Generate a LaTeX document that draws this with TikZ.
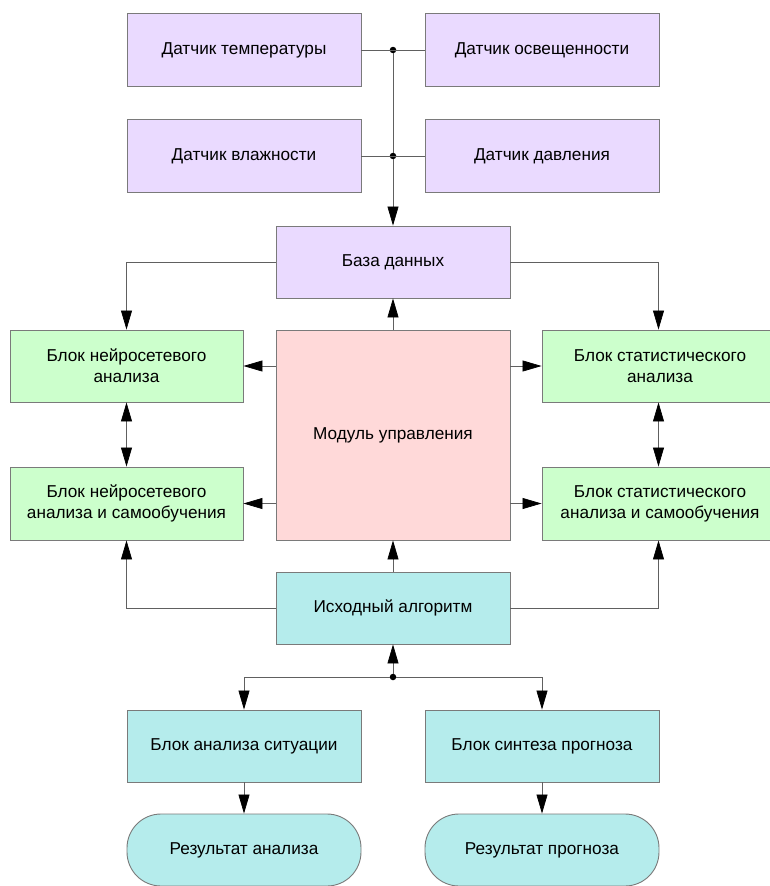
\documentclass[tikz,border=0pt]{standalone}
\usepackage{fontspec}
\setmainfont{Liberation Sans}
\usetikzlibrary{arrows.meta}
\definecolor{purp}{HTML}{EADAFF}
\definecolor{grn}{HTML}{CCFFCC}
\definecolor{pnk}{HTML}{FFD9D9}
\definecolor{cyn}{HTML}{B5ECEC}
\definecolor{brd}{HTML}{7A7A7A}
\definecolor{ln}{HTML}{606060}
\tikzset{
  box/.style={draw=brd, line width=0.9pt, minimum width=234pt, minimum height=73pt, align=center, font=\fontsize{17.2}{21}\selectfont, inner sep=0pt},
  pbox/.style={box, fill=purp},
  gbox/.style={box, fill=grn},
  cbox/.style={box, fill=cyn},
  conn/.style={draw=ln, line width=0.7pt},
  tip/.style={},
  arr/.style={conn, -{Triangle[length=19pt,width=11pt,fill=black,color=black]}},
  darr/.style={conn, {Triangle[length=19pt,width=11pt,fill=black,color=black]}-{Triangle[length=19pt,width=11pt,fill=black,color=black]}},
  dot/.style={circle, fill=black, inner sep=0pt, minimum size=6.5pt}
}
\begin{document}
\begin{tikzpicture}[x=1pt,y=-1pt]
\useasboundingbox (0,0) rectangle (769,886);
\node[pbox] (t1) at (244,50) {Датчик температуры};
\node[pbox] (t2) at (542,50) {Датчик освещенности};
\node[pbox] (t3) at (244,156) {Датчик влажности};
\node[pbox] (t4) at (542,156) {Датчик давления};
\node[dot] (j1) at (393,50) {};
\node[dot] (j2) at (393,156) {};
\node[pbox, minimum height=72pt] (db) at (393,262) {База данных};
\node[gbox, minimum width=233pt, minimum height=72pt] (n1) at (126.5,366) {Блок нейросетевого\\анализа};
\node[gbox, minimum width=233pt, minimum height=73pt] (n2) at (126.5,503.5) {Блок нейросетевого\\анализа и самообучения};
\node[gbox, minimum width=236pt, minimum height=72pt] (s1) at (660,366) {Блок статистического\\анализа};
\node[gbox, minimum width=236pt, minimum height=73pt] (s2) at (660,503.5) {Блок статистического\\анализа и самообучения};
\node[box, fill=pnk, minimum height=210pt] (mu) at (393,435) {Модуль управления};
\node[cbox, minimum height=72pt] (ia) at (393,608) {Исходный алгоритм};
\node[dot] (j3) at (393,677) {};
\node[cbox, minimum height=72pt] (ba) at (244,746) {Блок анализа ситуации};
\node[cbox, minimum height=72pt] (bs) at (542,746) {Блок синтеза прогноза};
\node[cbox, minimum height=72pt, rounded corners=34pt] (ra) at (244,850) {Результат анализа};
\node[cbox, minimum height=72pt, rounded corners=34pt] (rp) at (542,850) {Результат прогноза};
% sensors
\draw[conn] (t1.east) -- (t2.west);
\draw[conn] (t3.east) -- (t4.west);
\draw[conn] (j1) -- (j2);
\draw[arr] (j2) -- (db.north);
% database
\draw[arr] (db.west) -| (n1.north);
\draw[arr] (db.east) -| ([xshift=-1.5pt]s1.north);
\draw[arr] (mu.north) -- (db.south);
% control module
\draw[arr] (mu.west |- n1.east) -- (n1.east);
\draw[arr] (mu.west |- n2.east) -- (n2.east);
\draw[arr] (mu.east |- s1.west) -- (s1.west);
\draw[arr] (mu.east |- s2.west) -- (s2.west);
\draw[darr] (n1.south) -- (n2.north);
\draw[darr] ([xshift=-1.5pt]s1.south) -- ([xshift=-1.5pt]s2.north);
% algorithm
\draw[arr] (ia.north) -- (mu.south);
\draw[arr] (ia.west) -| (n2.south);
\draw[arr] (ia.east) -| ([xshift=-1.5pt]s2.south);
\draw[arr] (j3) -- (ia.south);
\draw[arr] (j3) -| (ba.north);
\draw[arr] (j3) -| (bs.north);
\draw[arr] (ba.south) -- (ra.north);
\draw[arr] (bs.south) -- (rp.north);
\end{tikzpicture}
\end{document}
